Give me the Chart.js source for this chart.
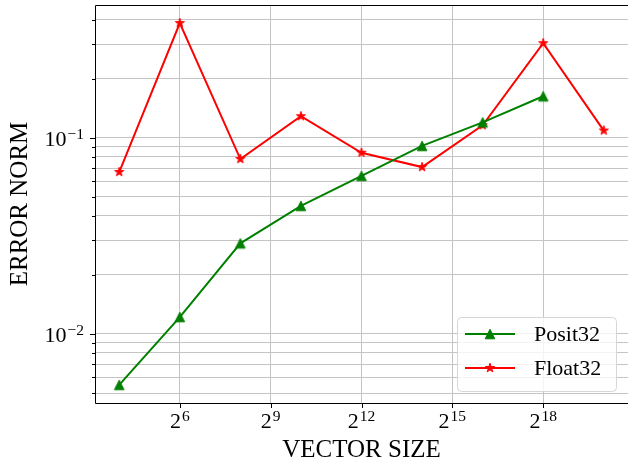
<!DOCTYPE html>
<html>
<head>
<meta charset="utf-8">
<script src="https://cdn.jsdelivr.net/npm/chart.js@4.4.1/dist/chart.umd.min.js"></script>
<style>
  html, body { margin: 0; padding: 0; background: #fff; }
  #wrap { width: 628px; height: 465px; }
</style>
</head>
<body>
<div id="wrap"><canvas id="errorChart" width="628" height="465"></canvas></div>
<script>
// data
const vectorSizes = [16, 64, 256, 1024, 4096, 16384, 65536, 262144, 1048576];
const posit32 = [0.0055, 0.0122, 0.029, 0.045, 0.064, 0.091, 0.120, 0.163];
const float32 = [0.067, 0.385, 0.078, 0.129, 0.084, 0.071, 0.116, 0.304, 0.109];

const xTickValues = [64, 512, 4096, 32768, 262144];
const xTickLabels = ['2^6', '2^9', '2^12', '2^15', '2^18'];
const yMajorValues = [0.01, 0.1];
const yTickLabels = ['10^-2', '10^-1'];
const yMinorValues = [0.005, 0.006, 0.007, 0.008, 0.009,
    0.02, 0.03, 0.04, 0.05, 0.06, 0.07, 0.08, 0.09,
    0.2, 0.3, 0.4];

const seriesNames = ['Posit32', 'Float32'];
const FONT = '"Liberation Serif", "Times New Roman", serif';
const positColor = '#008000';
const floatColor = '#ff0000';
const gridColor = '#c4c4c4';

// matplotlib-like 5% margins in log space
function logBounds(values, base) {
    const lg = values.map(v => Math.log(v) / Math.log(base));
    const lo = Math.min(...lg), hi = Math.max(...lg);
    const m = (hi - lo) * 0.05;
    return [Math.pow(base, lo - m), Math.pow(base, hi + m)];
}
const [xMin, xMax] = logBounds(vectorSizes, 2);
const [yMin, yMax] = logBounds(posit32.concat(float32), 10);

function makeMarker(kind, color) {
    const c = document.createElement('canvas');
    c.width = 16; c.height = 16;
    const g = c.getContext('2d');
    g.fillStyle = color; g.strokeStyle = color; g.lineWidth = 1; g.lineJoin = 'miter';
    g.beginPath();
    if (kind === 'tri') {
        const s = 4.8;
        g.moveTo(8, 8 - s); g.lineTo(8 - s, 8 + s); g.lineTo(8 + s, 8 + s);
    } else {
        const ro = 4.8, ri = ro * 0.382;
        for (let i = 0; i < 10; i++) {
            const r = i % 2 ? ri : ro;
            const a = -Math.PI / 2 + i * Math.PI / 5;
            const px = 8 + r * Math.cos(a), py = 8 + r * Math.sin(a);
            if (i === 0) g.moveTo(px, py); else g.lineTo(px, py);
        }
    }
    g.closePath(); g.fill(); g.stroke();
    return c;
}
const triMarker = makeMarker('tri', positColor);
const starMarker = makeMarker('star', floatColor);

// draws "b^e" as base + raised exponent
function drawPow(ctx, label, x, y, align) {
    const parts = label.split('^');
    const base = parts[0], exp = parts[1].replace('-', '\u2212');
    ctx.font = '22px ' + FONT;
    const wb = ctx.measureText(base).width;
    ctx.font = '15.5px ' + FONT;
    const we = ctx.measureText(exp).width;
    const total = wb + we + 1;
    const x0 = align === 'center' ? x - total / 2 : x - total;
    ctx.textAlign = 'left';
    ctx.textBaseline = 'alphabetic';
    ctx.fillStyle = '#000';
    ctx.font = '22px ' + FONT;
    ctx.fillText(base, x0, y);
    ctx.font = '15.5px ' + FONT;
    ctx.fillText(exp, x0 + wb + 1, y - 7.5);
}

const decorations = {
    id: 'decorations',
    afterDatasetsDraw(chart) {
        const ctx = chart.ctx;
        const ca = chart.chartArea;
        const xs = chart.scales.x, ys = chart.scales.y;
        ctx.save();

        // frame (right spine falls just outside the canvas in the original)
        const l = Math.round(ca.left) + 0.5, t = Math.round(ca.top) + 0.5, b = Math.round(ca.bottom) + 0.5;
        ctx.strokeStyle = '#000';
        ctx.lineWidth = 1;
        ctx.beginPath();
        ctx.moveTo(ca.right, t); ctx.lineTo(l, t); ctx.lineTo(l, b); ctx.lineTo(ca.right, b);
        ctx.stroke();

        // tick marks
        ctx.beginPath();
        xTickValues.forEach(v => {
            const px = Math.round(xs.getPixelForValue(v)) + 0.5;
            ctx.moveTo(px, ca.bottom); ctx.lineTo(px, ca.bottom + 5);
        });
        yMajorValues.forEach(v => {
            const py = Math.round(ys.getPixelForValue(v)) + 0.5;
            ctx.moveTo(ca.left - 5, py); ctx.lineTo(ca.left, py);
        });
        yMinorValues.forEach(v => {
            const py = Math.round(ys.getPixelForValue(v)) + 0.5;
            ctx.moveTo(ca.left - 3, py); ctx.lineTo(ca.left, py);
        });
        ctx.stroke();

        // tick labels
        xTickValues.forEach((v, i) => {
            drawPow(ctx, xTickLabels[i], xs.getPixelForValue(v), ca.bottom + 25, 'center');
        });
        yMajorValues.forEach((v, i) => {
            drawPow(ctx, yTickLabels[i], ca.left - 11, ys.getPixelForValue(v) + 8.5, 'right');
        });

        // legend, lower right inside the axes
        const lw = 159, lh = 74;
        const lx = ca.right - 12 - lw, ly = ca.bottom - 12 - lh;
        ctx.beginPath();
        ctx.roundRect(lx + 0.5, ly + 0.5, lw, lh, 4);
        ctx.fillStyle = 'rgba(255,255,255,0.8)';
        ctx.fill();
        ctx.strokeStyle = '#d6d6d6';
        ctx.lineWidth = 1;
        ctx.stroke();

        const rows = [
            { name: seriesNames[0], color: positColor, marker: triMarker, y: ly + 17 },
            { name: seriesNames[1], color: floatColor, marker: starMarker, y: ly + 51 }
        ];
        rows.forEach(r => {
            ctx.beginPath();
            ctx.strokeStyle = r.color;
            ctx.lineWidth = 2;
            ctx.moveTo(lx + 8, r.y); ctx.lineTo(lx + 58, r.y);
            ctx.stroke();
            ctx.drawImage(r.marker, lx + 33 - 8, r.y - 8);
            ctx.fillStyle = '#000';
            ctx.font = '22px ' + FONT;
            ctx.textAlign = 'left';
            ctx.textBaseline = 'middle';
            ctx.fillText(r.name, lx + 77, r.y + 1);
        });
        ctx.restore();
    }
};

new Chart(document.getElementById('errorChart'), {
    type: 'line',
    data: {
        datasets: [
            {
                label: seriesNames[0],
                data: posit32.map((v, i) => ({ x: vectorSizes[i], y: v })),
                borderColor: positColor,
                backgroundColor: positColor,
                borderWidth: 2,
                pointStyle: triMarker,
                pointRadius: 5,
                tension: 0,
                fill: false
            },
            {
                label: seriesNames[1],
                data: float32.map((v, i) => ({ x: vectorSizes[i], y: v })),
                borderColor: floatColor,
                backgroundColor: floatColor,
                borderWidth: 2,
                pointStyle: starMarker,
                pointRadius: 5,
                tension: 0,
                fill: false
            }
        ]
    },
    options: {
        responsive: false,
        animation: false,
        layout: { autoPadding: false, padding: { top: 5, right: -1, bottom: 0, left: 0 } },
        plugins: { legend: { display: false }, tooltip: { enabled: false } },
        scales: {
            x: {
                type: 'logarithmic',
                min: xMin, max: xMax,
                afterBuildTicks: s => { s.ticks = xTickValues.map(v => ({ value: v })); },
                afterFit: s => { s.height = 62; },
                ticks: { display: false },
                grid: { color: gridColor, lineWidth: 1, drawTicks: false },
                border: { display: false },
                title: {
                    display: true, text: 'VECTOR SIZE', color: '#000',
                    font: { family: FONT, size: 25 },
                    padding: { top: 0, bottom: 0 }
                }
            },
            y: {
                type: 'logarithmic',
                min: yMin, max: yMax,
                afterBuildTicks: s => {
                    s.ticks = yMajorValues.concat(yMinorValues).map(v => ({ value: v }));
                },
                afterFit: s => { s.width = 95; },
                ticks: { display: false },
                grid: { color: gridColor, lineWidth: 1, drawTicks: false },
                border: { display: false },
                title: {
                    display: true, text: 'ERROR NORM', color: '#000',
                    font: { family: FONT, size: 25 },
                    padding: { top: 5, bottom: 0 }
                }
            }
        }
    },
    plugins: [decorations]
});
</script>
</body>
</html>
